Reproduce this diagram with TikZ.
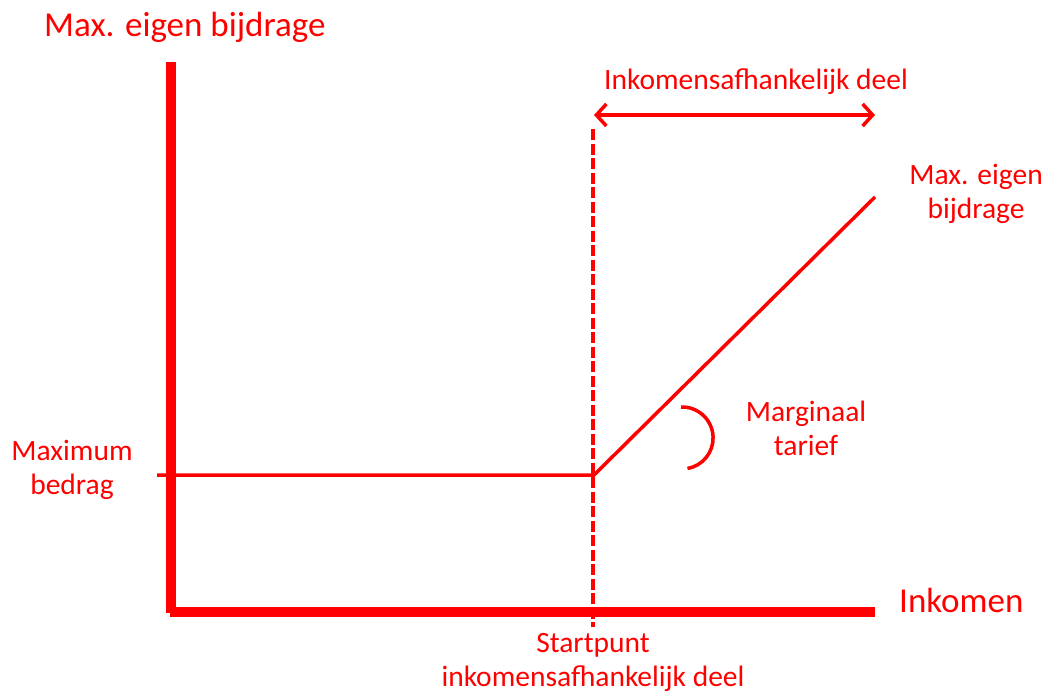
\documentclass[tikz,border=0pt]{standalone}
\usepackage{fontspec}
\setmainfont{Carlito}
\usetikzlibrary{arrows.meta}
\definecolor{myred}{RGB}{255,0,0}
\begin{document}
\begin{tikzpicture}[x=1pt,y=-1pt,
  lbl/.style={text=myred,inner sep=0pt,align=center,font=\fontsize{29.5}{34}\selectfont},
  axis/.style={draw=myred,line width=9.5pt},
  thin/.style={draw=myred,line width=3.5pt}]
\useasboundingbox (0,0) rectangle (1046,693);
% axes
\coordinate (ytop) at (171,62);
\coordinate (ybot) at (171,613);
\coordinate (xl) at (170,612);
\coordinate (xr) at (875,612);
\draw[axis] (ytop) -- (ybot);
\draw[axis] (xl) -- (xr);
% horizontal level
\coordinate (hl) at (157,475);
\coordinate (kink) at (594,475);
\coordinate (end) at (875,197);
\draw[thin] (hl) -- (kink) -- (end);
% dashed vertical
\coordinate (dtop) at (593,129);
\coordinate (dbot) at (593,627);
\draw[myred,line width=3.5pt,dash pattern=on 11pt off 3.5pt] (dtop) -- (dbot);
% double arrow
\coordinate (al) at (594,115);
\coordinate (ar) at (875,115);
\draw[thin,{Straight Barb[length=10pt,width=22pt,line width=3.5pt]}-{Straight Barb[length=10pt,width=22pt,line width=3.5pt]}] (al) -- (ar);
% arc
\coordinate (arcs) at (681,407);
\draw[thin] (arcs) arc[start angle=-92,end angle=80,radius=31];
% labels
\node[lbl,anchor=west,font=\fontsize{35}{40}\selectfont] (title) at (44,27) {Max. eigen bijdrage};
\node[lbl] (inkdeel) at (756,82) {Inkomensafhankelijk deel};
\node[lbl] (maxeb) at (976,194) {Max. eigen\\bijdrage};
\node[lbl] (marg) at (806,428) {Marginaal\\tarief};
\node[lbl] (maxb) at (72,470) {Maximum\\bedrag};
\node[lbl,anchor=west,font=\fontsize{35}{40}\selectfont] (ink) at (899,600) {Inkomen};
\node[lbl] (start) at (593,662) {Startpunt\\inkomensafhankelijk deel};
\end{tikzpicture}
\end{document}
